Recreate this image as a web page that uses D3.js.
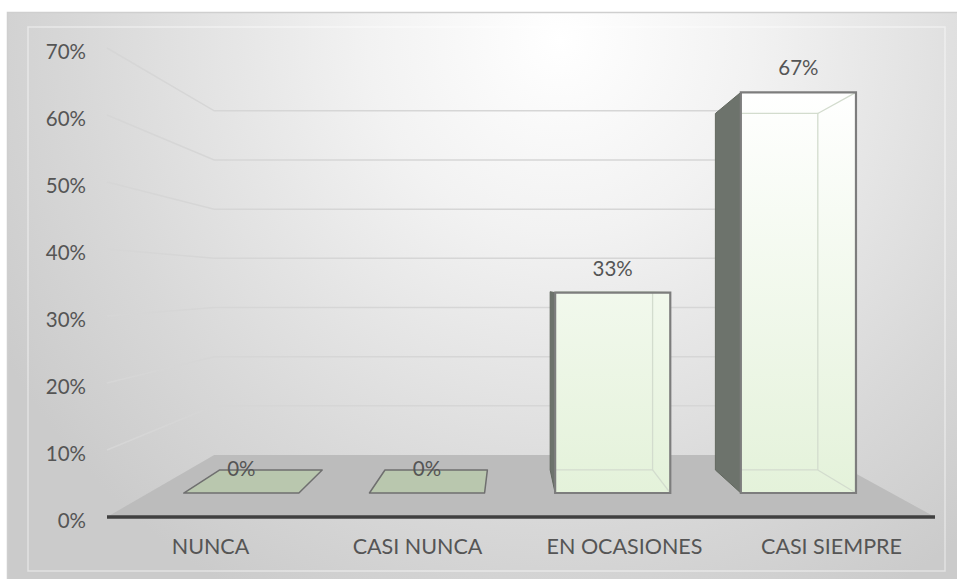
<!DOCTYPE html>
<html>
<head>
<meta charset="utf-8">
<script src="https://cdn.jsdelivr.net/npm/d3@7"></script>
<style>
  html, body { margin: 0; padding: 0; background: #ffffff; }
  svg { display: block; }
  text { font-family: Lato, "Open Sans", sans-serif; fill: #555555; }
</style>
</head>
<body>
<svg id="chart" width="957" height="579"></svg>
<script>
// Survey answers and their shares
const categories = ["NUNCA", "CASI NUNCA", "EN OCASIONES", "CASI SIEMPRE"];
const shares = [0, 0, 1 / 3, 2 / 3];
const yTicks = [0, 0.1, 0.2, 0.3, 0.4, 0.5, 0.6, 0.7];

const W = 957, H = 579;
const svg = d3.select("#chart");
const defs = svg.append("defs");
const pct = d3.format(".0%");

// Front plane scales (the plane of the category axis)
const x = d3.scaleBand().domain(categories).range([107, 935])
  .paddingInner(0.38).paddingOuter(0.19);
const y = d3.scaleLinear().domain([0, 0.7]).range([517, 48]);

// Depth: 0 = front edge of the floor, 1 = back wall. Mapped to a perspective factor.
const depth = d3.scaleLinear().domain([0, 1]).range([1, 0.734]);
const vanish = [510, 284];
function project(X, Y, d) {
  const k = depth(d);
  return [vanish[0] + k * (X - vanish[0]), vanish[1] + k * (Y - vanish[1])];
}
const barFront = 0.387, barBack = 0.759;

// Background
const bg = defs.append("radialGradient").attr("id", "bg")
  .attr("gradientUnits", "userSpaceOnUse")
  .attr("cx", 560).attr("cy", 40).attr("r", 640);
bg.append("stop").attr("offset", 0).attr("stop-color", "#ffffff");
bg.append("stop").attr("offset", 0.3).attr("stop-color", "#f2f2f2");
bg.append("stop").attr("offset", 0.75).attr("stop-color", "#d8d8d8");
bg.append("stop").attr("offset", 1).attr("stop-color", "#cbcbcb");

svg.append("rect").attr("x", 7.5).attr("y", 12.5).attr("width", W).attr("height", H)
  .attr("fill", "url(#bg)").attr("stroke", "#cfcfcf").attr("stroke-width", 1.5);
svg.append("rect").attr("x", 28).attr("y", 27).attr("width", 917).attr("height", 544)
  .attr("fill", "none").attr("stroke", "#ffffff").attr("stroke-opacity", 0.45).attr("stroke-width", 1.5);

const line = d3.line();

// Gridlines on the side wall and the back wall
const grid = svg.append("g").attr("fill", "none").attr("stroke", "#d6d6d6").attr("stroke-width", 1.5);
yTicks.filter(t => t > 0).forEach(t => {
  const p0 = project(x.range()[0], y(t), 0);
  const p1 = project(x.range()[0], y(t), 1);
  const p2 = project(x.range()[1], y(t), 1);
  grid.append("path").attr("d", line([p0, p1, p2]));
});

// Floor
const floorPts = [
  project(x.range()[0], y(0), 0), project(x.range()[1], y(0), 0),
  project(x.range()[1], y(0), 1), project(x.range()[0], y(0), 1)
];
svg.append("path").attr("d", line(floorPts) + "Z").attr("fill", "#bcbcbc");
svg.append("path").attr("d", line([floorPts[0], floorPts[1]]))
  .attr("stroke", "#404040").attr("stroke-width", 3.5).attr("fill", "none");

// Value axis labels
svg.append("g").selectAll("text").data(yTicks).join("text")
  .attr("x", 86).attr("y", d => y(d) + 4).attr("dy", "0.32em")
  .attr("text-anchor", "end").attr("font-size", 20.5).text(d => pct(d));

// Category labels
svg.append("g").selectAll("text").data(categories).join("text")
  .attr("x", d => x(d) + x.bandwidth() / 2)
  .attr("y", 554).attr("text-anchor", "middle").attr("font-size", 21.5).text(d => d);

// Bar fill
const fillGrad = defs.append("linearGradient").attr("id", "barFill")
  .attr("gradientUnits", "userSpaceOnUse")
  .attr("x1", 0).attr("x2", 0).attr("y1", 90).attr("y2", 493);
fillGrad.append("stop").attr("offset", 0).attr("stop-color", "#ffffff");
fillGrad.append("stop").attr("offset", 1).attr("stop-color", "#e4f2da");

const bars = svg.append("g");
categories.forEach((c, i) => {
  const v = shares[i];
  const X0 = x(c), X1 = x(c) + x.bandwidth();
  const fb0 = project(X0, y(0), barFront), fb1 = project(X1, y(0), barFront);
  const ft0 = project(X0, y(v), barFront), ft1 = project(X1, y(v), barFront);
  const bb0 = project(X0, y(0), barBack), bb1 = project(X1, y(0), barBack);
  const bt0 = project(X0, y(v), barBack), bt1 = project(X1, y(v), barBack);
  const g = bars.append("g");
  if (v === 0) {
    g.append("path").attr("d", line([fb0, fb1, bb1, bb0]) + "Z")
      .attr("fill", "#b9c7ae").attr("stroke", "#6f6f6f").attr("stroke-width", 1.5)
      .attr("stroke-linejoin", "round");
  } else {
    // left side face
    g.append("path").attr("d", line([bb0, bt0, ft0, fb0]) + "Z")
      .attr("fill", "#6d736c").attr("stroke", "#62685f").attr("stroke-width", 1);
    // front face
    g.append("path").attr("d", line([fb0, ft0, ft1, fb1]) + "Z")
      .attr("fill", "url(#barFill)");
    // back edges showing through the face
    const inner = g.append("g").attr("fill", "none").attr("stroke", "#d3dcce").attr("stroke-width", 1.3);
    inner.append("path").attr("d", line([[ft0[0], bt1[1]], bt1, bb1, [fb0[0], bb1[1]]]));
    inner.append("path").attr("d", line([bt1, ft1]));
    inner.append("path").attr("d", line([bb1, fb1]));
    // front face outline
    g.append("path").attr("d", line([fb0, ft0, ft1, fb1]) + "Z")
      .attr("fill", "none").attr("stroke", "#7d7d7d").attr("stroke-width", 2.2);
  }
  // value label
  g.append("text")
    .attr("x", (ft0[0] + ft1[0]) / 2).attr("y", ft0[1] - 17)
    .attr("text-anchor", "middle").attr("font-size", 20.5).text(pct(v));
});
</script>
</body>
</html>
